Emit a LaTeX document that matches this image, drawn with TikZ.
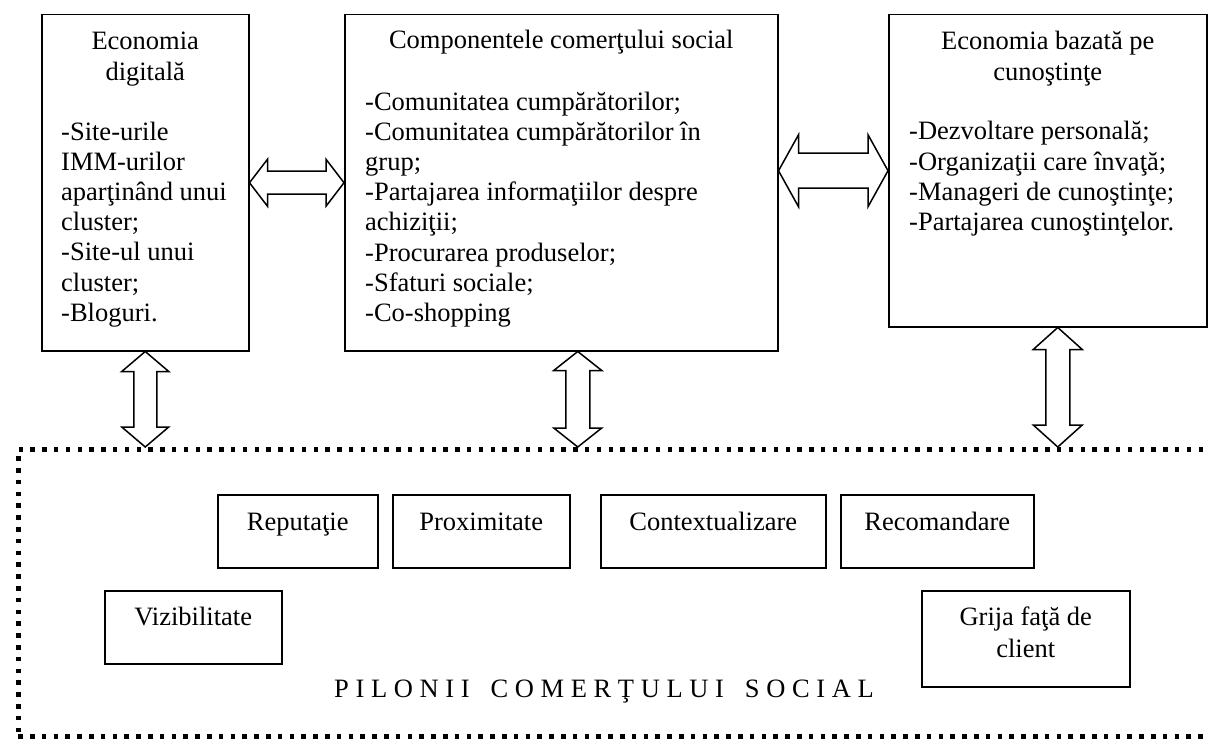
\documentclass[tikz,border=0pt]{standalone}
\usepackage{fontspec}
\setmainfont{Liberation Serif}
\usetikzlibrary{calc}

% horizontal double block arrow: start, end, half shaft, half head, head length
\newcommand\blockarrowH[5]{%
  \draw[arr] let \p1=#1, \p2=#2 in
    (\x1,\y1) -- (\x1+#5pt,\y1-#4pt) -- (\x1+#5pt,\y1-#3pt) -- (\x2-#5pt,\y1-#3pt)
    -- (\x2-#5pt,\y1-#4pt) -- (\x2,\y1) -- (\x2-#5pt,\y1+#4pt) -- (\x2-#5pt,\y1+#3pt)
    -- (\x1+#5pt,\y1+#3pt) -- (\x1+#5pt,\y1+#4pt) -- cycle;}
% vertical double block arrow: top, bottom, half shaft, half head, head length
\newcommand\blockarrowV[5]{%
  \draw[arr] let \p1=#1, \p2=#2 in
    (\x1,\y1) -- (\x1+#4pt,\y1-#5pt) -- (\x1+#3pt,\y1-#5pt) -- (\x1+#3pt,\y2+#5pt)
    -- (\x1+#4pt,\y2+#5pt) -- (\x1,\y2) -- (\x1-#4pt,\y2+#5pt) -- (\x1-#3pt,\y2+#5pt)
    -- (\x1-#3pt,\y1-#5pt) -- (\x1-#4pt,\y1-#5pt) -- cycle;}

\begin{document}
\begin{tikzpicture}[x=1pt,y=-1pt,
  box/.style={draw, line width=1.5pt, inner sep=0pt, anchor=north west},
  pillar/.style={box},
  frame/.style={draw, line width=4.5pt, dash pattern=on 4.5pt off 7.3pt, inner sep=0pt, anchor=north west},
  txt/.style={inner sep=0pt, font=\fontsize{26.5}{30.2}\selectfont},
  arr/.style={draw, fill=white, line width=1.5pt, line join=miter}]
\useasboundingbox (0,0) rectangle (1208,746);

% upper row of boxes
\node[box, minimum width=207pt, minimum height=336pt] (eco) at (41,14) {};
\node[box, minimum width=433pt, minimum height=336pt] (comp) at (344,14) {};
\node[box, minimum width=318pt, minimum height=312pt] (know) at (888,14) {};

% multi-line texts are placed by the baseline of their last line
\node[txt, anchor=base, align=center] (ecotitle) at ($(eco.north)+(0,66.2)$) {Economia\\digitală};
\node[txt, anchor=base west, align=left] (ecolist) at ($(eco.north west)+(20,307.2)$)
  {-Site-urile\\IMM-urilor\\aparţinând unui\\cluster;\\-Site-ul unui\\cluster;\\-Bloguri.};

\node[txt, anchor=base] (comptitle) at ($(comp.north)+(0,35)$) {Componentele comerţului social};
\node[txt, anchor=base west, align=left] (complist) at ($(comp.north west)+(21,307.4)$)
  {-Comunitatea cumpărătorilor;\\-Comunitatea cumpărătorilor în\\grup;\\-Partajarea informaţiilor despre\\achiziţii;\\-Procurarea produselor;\\-Sfaturi sociale;\\-Co-shopping};

\node[txt, anchor=base, align=center] (knowtitle) at ($(know.north)+(0,66.2)$) {Economia bazată pe\\cunoştinţe};
\node[txt, anchor=base west, align=left] (knowlist) at ($(know.north west)+(21,216.6)$)
  {-Dezvoltare personală;\\-Organizaţii care învaţă;\\-Manageri de cunoştinţe;\\-Partajarea cunoştinţelor.};

% dotted frame of the pillars
\node[frame, minimum width=1210pt, minimum height=287pt] (pilon) at (16,447) {};

% pillar boxes
\node[pillar, minimum width=160pt, minimum height=73pt] (rep) at (217,494) {};
\node[pillar, minimum width=177pt, minimum height=73pt] (prox) at (392,494) {};
\node[pillar, minimum width=225pt, minimum height=73pt] (ctx) at (600,494) {};
\node[pillar, minimum width=193pt, minimum height=73pt] (rec) at (840,494) {};
\node[pillar, minimum width=177pt, minimum height=73pt] (viz) at (104,590) {};
\node[pillar, minimum width=208pt, minimum height=96pt] (grija) at (921,590) {};

\node[txt, anchor=base] (reptxt) at ($(rep.north)+(0,36)$) {Reputaţie};
\node[txt, anchor=base] (proxtxt) at ($(prox.north)+(0,36)$) {Proximitate};
\node[txt, anchor=base] (ctxtxt) at ($(ctx.north)+(0,36)$) {Contextualizare};
\node[txt, anchor=base] (rectxt) at ($(rec.north)+(0,36)$) {Recomandare};
\node[txt, anchor=base] (viztxt) at ($(viz.north)+(0,35)$) {Vizibilitate};
\node[txt, anchor=base, align=center, font=\fontsize{26.5}{32}\selectfont] (grijatxt)
  at ($(grija.north)+(0,67)$) {Grija faţă de\\client};

\node[txt, anchor=base] (pilontxt) at (604,697)
  {P I L O N I I\hspace{21pt}C O M E R Ţ U L U I\hspace{21pt}S O C I A L};

% connecting block arrows
\blockarrowH{(eco.east)}{(comp.west |- eco.east)}{11.5}{23.5}{18}
\blockarrowH{(comp.east |- know.west)}{(know.west)}{17.5}{36}{20}

\coordinate (v1bot) at (eco.south |- pilon.north);
\coordinate (v2top) at ($(comp.south)+(16.5,0)$);
\coordinate (v2bot) at (v2top |- pilon.north);
\coordinate (v3top) at ($(know.south)+(10,0)$);
\coordinate (v3bot) at (v3top |- pilon.north);
\blockarrowV{(eco.south)}{(v1bot)}{11.5}{23.5}{20}
\blockarrowV{(v2top)}{(v2bot)}{12}{24}{19}
\blockarrowV{(v3top)}{(v3bot)}{12}{24.5}{22}
\end{tikzpicture}
\end{document}
